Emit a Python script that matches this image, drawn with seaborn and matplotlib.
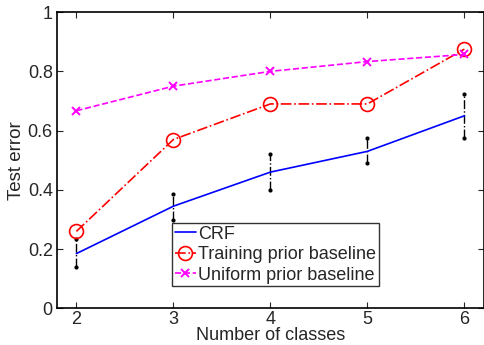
import matplotlib
matplotlib.use("Agg")
import matplotlib.pyplot as plt
import pandas as pd
import seaborn as sns

classes = [2, 3, 4, 5, 6]
crf = [0.185, 0.345, 0.46, 0.53, 0.65]
crf_low = [0.14, 0.30, 0.40, 0.49, 0.575]
crf_high = [0.235, 0.385, 0.52, 0.575, 0.725]
training_prior = [0.26, 0.57, 0.69, 0.69, 0.875]
uniform_prior = [0.667, 0.75, 0.80, 0.833, 0.857]

sns.set_style("ticks")
plt.rcParams["font.family"] = ["Liberation Sans", "DejaVu Sans"]
plt.rcParams["xtick.direction"] = "in"
plt.rcParams["ytick.direction"] = "in"

fig = plt.figure(figsize=(4.85, 3.45), dpi=100)
ax = fig.add_axes([0.1175, 0.106, 0.88, 0.859])

df = pd.DataFrame({"classes": classes, "crf": crf,
                   "training": training_prior, "uniform": uniform_prior})

# error bars for CRF
for x, lo, hi in zip(classes, crf_low, crf_high):
    ax.plot([x, x], [lo, hi], color="black", ls="-.", lw=1.0,
            marker=".", markersize=4, zorder=1)

sns.lineplot(data=df, x="classes", y="crf", ax=ax, color="blue", lw=1.2,
             label="CRF", zorder=3)
sns.lineplot(data=df, x="classes", y="training", ax=ax, color="red", lw=1.2,
             ls="-.", marker="o", markersize=10, markerfacecolor="none",
             markeredgecolor="red", markeredgewidth=1.2,
             label="Training prior baseline", zorder=3)
sns.lineplot(data=df, x="classes", y="uniform", ax=ax, color="magenta", lw=1.2,
             ls="--", marker="x", markersize=6, markeredgewidth=1.4,
             markeredgecolor="magenta",
             label="Uniform prior baseline", zorder=3)

ax.set_xlim(1.8, 6.2)
ax.set_ylim(0, 1)
ax.set_xticks(classes)
ax.set_yticks([0, 0.2, 0.4, 0.6, 0.8, 1])
ax.set_yticklabels(["0", "0.2", "0.4", "0.6", "0.8", "1"])
ax.tick_params(labelsize=13, top=True, right=True, length=4, width=0.8, pad=3)
ax.tick_params(axis="x", pad=2)
for s in ax.spines.values():
    s.set_linewidth(1.2)
    s.set_color("black")
ax.set_xlabel("Number of classes", fontsize=13, labelpad=-1)
ax.set_ylabel("Test error", fontsize=13.5, labelpad=2)

leg = ax.legend(loc="lower left", bbox_to_anchor=(0.269, 0.074), fontsize=13,
                frameon=True, fancybox=False, edgecolor="black",
                borderpad=0.15, labelspacing=0.2, handlelength=1.2,
                handletextpad=0.1, borderaxespad=0)
leg.get_frame().set_linewidth(1.0)

fig.savefig("out.png", dpi=100)
